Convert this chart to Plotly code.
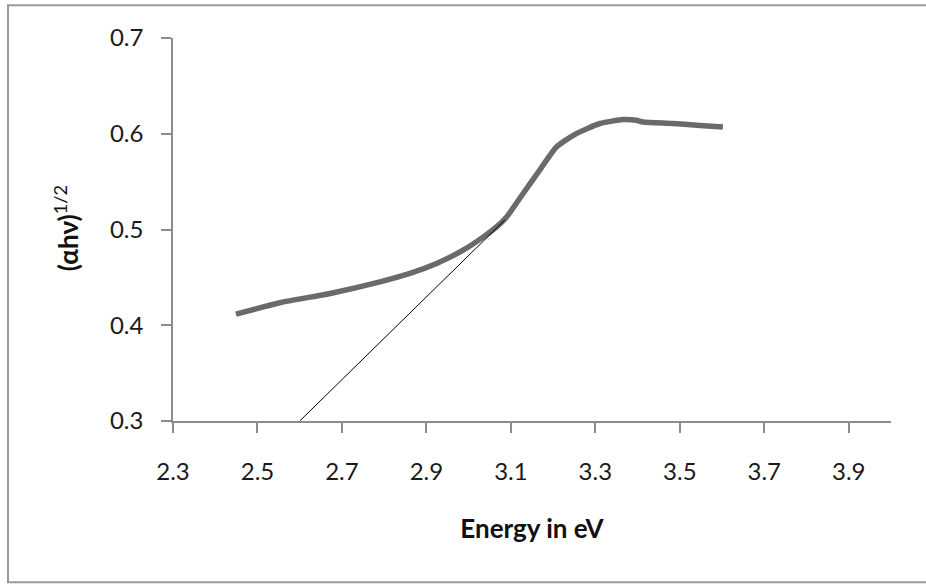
import plotly.graph_objects as go

# Curve data (Energy in eV, (αhν)^1/2)
energy = [2.449, 2.553, 2.672, 2.790, 2.861, 2.924, 2.987, 3.035, 3.066, 3.090,
          3.129, 3.168, 3.208, 3.255, 3.311, 3.366, 3.397, 3.413, 3.484, 3.539, 3.602]
ahv = [0.4116, 0.4235, 0.4332, 0.4453, 0.4541, 0.4645, 0.4784, 0.4923, 0.5027, 0.5131,
       0.5376, 0.5619, 0.5862, 0.6002, 0.6107, 0.6148, 0.6141, 0.6123, 0.6107, 0.6089, 0.6071]

# Tangent (extrapolation) line
tan_x = [2.60, 3.086]
tan_y = [0.30, 0.510]

x_ticks = [2.3, 2.5, 2.7, 2.9, 3.1, 3.3, 3.5, 3.7, 3.9]
y_ticks = [0.3, 0.4, 0.5, 0.6, 0.7]

FONT = "Lato"

fig = go.Figure()
fig.add_trace(go.Scatter(x=energy, y=ahv, mode="lines",
                         line=dict(color="#6a6a6a", width=5.5, shape="spline", smoothing=0.6),
                         showlegend=False, hoverinfo="skip"))
fig.add_trace(go.Scatter(x=tan_x, y=tan_y, mode="lines",
                         line=dict(color="#000000", width=1),
                         showlegend=False, hoverinfo="skip"))

fig.update_layout(
    width=926, height=584,
    margin=dict(l=173, r=35, t=38, b=163),
    paper_bgcolor="white", plot_bgcolor="white",
    font=dict(family=FONT, size=24, color="#1a1a1a"),
    xaxis=dict(range=[2.3, 4.0], tickvals=x_ticks, ticktext=[f"{v:.1f}" for v in x_ticks],
               showgrid=False, zeroline=False, showline=True, linecolor="#8c8c8c", linewidth=1.5,
               ticks="outside", ticklen=10, tickcolor="#8c8c8c", tickwidth=1.5,
               ticklabelstandoff=18,
               title=dict(text="<b>Energy in eV</b>", font=dict(family=FONT, size=26, color="#111111"),
                          standoff=36)),
    yaxis=dict(range=[0.3, 0.7], tickvals=y_ticks, ticktext=[f"{v:.1f}" for v in y_ticks],
               showgrid=False, zeroline=False, showline=True, linecolor="#8c8c8c", linewidth=1.5,
               ticks="outside", ticklen=10, tickcolor="#8c8c8c", tickwidth=1.5,
               ticklabelstandoff=13),
    shapes=[dict(type="rect", xref="paper", yref="paper",
                 x0=(8 - 173) / 718, x1=(990 - 173) / 718,
                 y0=(421 - 582.5) / 383.3, y1=(421 - 5) / 383.3,
                 line=dict(color="#9a9a9a", width=2), fillcolor="rgba(0,0,0,0)", layer="below")],
    annotations=[dict(text="<b>(αhν)</b><sup>1/2</sup>", textangle=-90, showarrow=False,
                      xref="paper", yref="paper", x=(66 - 173) / 718, y=(421 - 228) / 383.3,
                      xanchor="center", yanchor="middle",
                      font=dict(family=FONT, size=26, color="#111111"))],
)

fig.write_html("out.html")
